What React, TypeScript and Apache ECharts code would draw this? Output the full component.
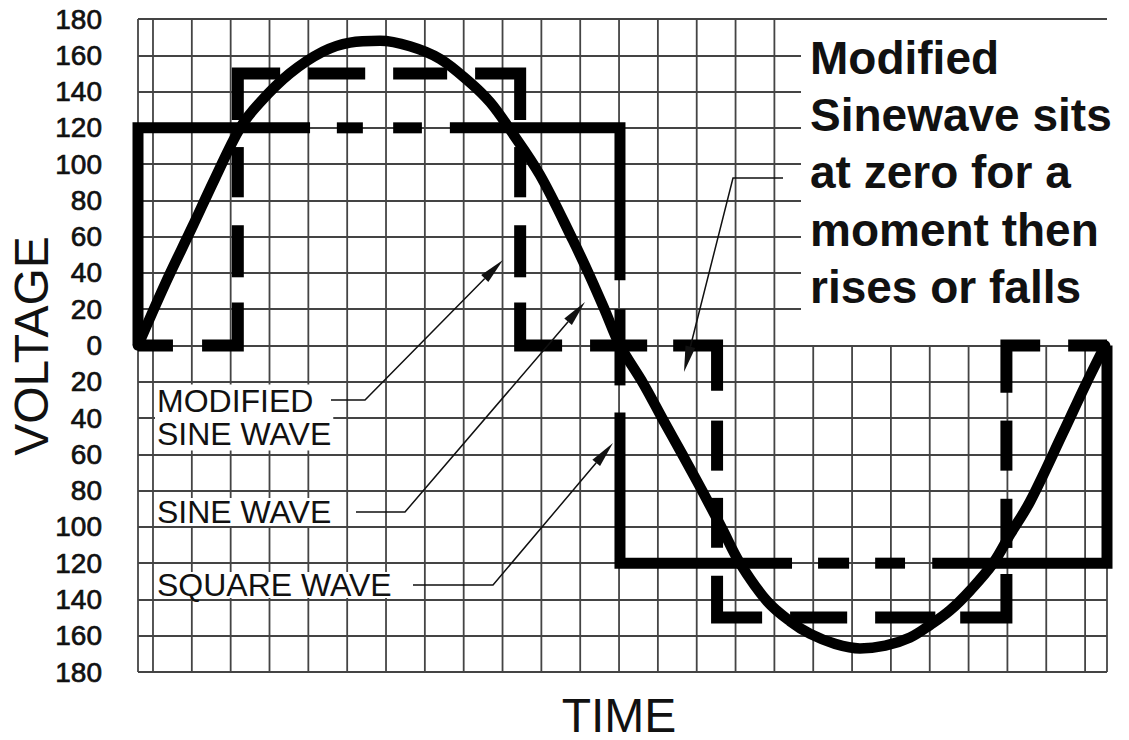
import React, { useEffect, useRef } from "react";
import * as echarts from "echarts";

// ---- axes (x in grid cells from the left border, y in volts) ----
const X_MIN = 0;
const X_MAX = 24.95;
const Y_MIN = -180;
const Y_MAX = 180;
const Y_STEP = 20;

// vertical grid lines: first one 0.386 cell right of the left border, 25 of them
const V_GRID_FIRST = 0.386;
const V_GRID_COUNT = 25;
const V_GRID_FULL_UNTIL = 16; // lines after this index only run below zero

// ---- series ----
const SINE_WAVE: number[][] = [
  [0, 0], [0.7, 34], [1.39, 65], [1.98, 92], [2.63, 120], [3.14, 134], [3.91, 150],
  [4.76, 162], [5.46, 167], [6.23, 168], [7.0, 165], [7.78, 158], [8.55, 145],
  [9.07, 134], [9.58, 119], [10.35, 94], [11.2, 58], [11.64, 38], [12.03, 19],
  [12.41, 0], [13.01, -21], [13.52, -41], [14.04, -61], [14.55, -81], [15.04, -101],
  [15.5, -120], [16.2, -141], [16.79, -152], [17.31, -159], [17.95, -164.5],
  [18.59, -167], [19.24, -165.5], [19.88, -161], [20.4, -154], [20.91, -146],
  [21.43, -135], [22.02, -120], [22.46, -104], [22.97, -86], [23.82, -48],
  [24.39, -22], [24.9, 0],
];

const SQUARE_WAVE: number[][][] = [
  [[0, 0], [0, 120], [4.43, 120]],
  [[5.12, 120], [5.79, 120]],
  [[6.57, 120], [7.31, 120]],
  [[8.03, 120], [12.41, 120], [12.41, 36]],
  [[12.41, 20], [12.41, -22]],
  [[12.41, -37], [12.41, -120], [16.84, -120]],
  [[17.51, -120], [18.31, -120]],
  [[18.98, -120], [19.75, -120]],
  [[20.45, -120], [24.95, -120], [24.95, 0]],
];

const MODIFIED_SINE: number[][][] = [
  [[0, 0], [0.9, 0]],
  [[1.65, 0], [2.57, 0], [2.57, 23.7]],
  [[2.57, 37.6], [2.57, 66.3]],
  [[2.57, 81.7], [2.57, 109.4]],
  [[2.57, 124.3], [2.57, 150], [3.66, 150]],
  [[4.38, 150], [5.85, 150]],
  [[6.57, 150], [7.96, 150]],
  [[8.68, 150], [9.84, 150], [9.84, 124.3]],
  [[9.84, 109.4], [9.84, 81.7]],
  [[9.84, 66.3], [9.84, 37.6]],
  [[9.84, 23.7], [9.84, 0], [10.92, 0]],
  [[11.64, 0], [13.11, 0]],
  [[13.78, 0], [14.91, 0], [14.91, -24.9]],
  [[14.91, -41.4], [14.91, -69]],
  [[14.91, -84], [14.91, -111.5]],
  [[14.91, -127], [14.91, -150], [16.07, -150]],
  [[16.79, -150], [18.26, -150]],
  [[18.98, -150], [20.53, -150]],
  [[21.17, -150], [22.36, -150], [22.36, -126]],
  [[22.36, -111.6], [22.36, -84.5]],
  [[22.36, -69], [22.36, -41.4]],
  [[22.36, -26], [22.36, 0], [23.23, 0]],
  [[23.95, 0], [24.95, 0]],
];

// ---- texts ----
const Y_TITLE = "VOLTAGE";
const X_TITLE = "TIME";
const NOTE_LINES = ["Modified", "Sinewave sits", "at zero for a", "moment then", "rises or falls"];
const LEFT_LABELS = [
  { text: "MODIFIED\nSINE WAVE", x: 155, y: 417.5, lh: 33 },
  { text: "SINE WAVE", x: 155, y: 512, lh: 28 },
  { text: "SQUARE WAVE", x: 155, y: 585, lh: 26 },
];
const ARROWS = [
  { points: [[331, 400], [365, 400]], tip: [503, 260] },
  { points: [[356, 512], [405, 512]], tip: [585, 302] },
  { points: [[413, 585], [493, 585]], tip: [613, 443] },
  { points: [[783, 178], [733, 178]], tip: [684, 372] },
];

const FONT = '"Liberation Sans", Arial, sans-serif';
const INK = "#111";
const GRID_COLOR = "#444";

export default function App() {
  const ref = useRef<HTMLDivElement>(null);

  useEffect(() => {
    if (!ref.current) return;
    const chart = echarts.init(ref.current, null, { renderer: "svg" });

    const gridData: number[][] = [[X_MIN, Y_MAX]];
    for (let k = 0; k < V_GRID_COUNT; k++) {
      gridData.push([V_GRID_FIRST + k, k <= V_GRID_FULL_UNTIL ? Y_MAX : 0]);
    }
    gridData.push([X_MAX, 0]);

    const waveLine = (data: number[][], width: number, z: number, smooth: number | boolean = false) => ({
      type: "line",
      data,
      smooth,
      symbol: "none",
      showSymbol: false,
      clip: false,
      silent: true,
      z,
      lineStyle: { color: "#000", width, cap: "butt", join: "miter" },
    });

    const series: any[] = [
      {
        type: "custom",
        z: 1,
        silent: true,
        data: gridData,
        renderItem: (_p: any, api: any) => {
          const x = api.value(0);
          const top = api.value(1);
          const a = api.coord([x, top]);
          const b = api.coord([x, Y_MIN]);
          return {
            type: "line",
            shape: { x1: a[0], y1: a[1], x2: b[0], y2: b[1] },
            style: { stroke: GRID_COLOR, lineWidth: 1.8 },
          };
        },
      },
      ...SQUARE_WAVE.map((seg) => waveLine(seg, 11, 3)),
      ...MODIFIED_SINE.map((seg) => waveLine(seg, 12, 3)),
      { ...waveLine(SINE_WAVE, 10.5, 4, 0.35), lineStyle: { color: "#000", width: 10.5, cap: "round", join: "round" } },
    ];

    const graphics: any[] = [
      { type: "rect", z: 1.5, silent: true, shape: { x: 801, y: 22, width: 320, height: 316 }, style: { fill: "#fff" } },
      {
        type: "text", z: 10, x: 31, y: 346, rotation: Math.PI / 2,
        style: { text: Y_TITLE, font: `48px ${FONT}`, fill: INK, align: "center", verticalAlign: "middle" },
      },
      {
        type: "text", z: 10, x: 619, y: 715,
        style: { text: X_TITLE, font: `48px ${FONT}`, fill: INK, align: "center", verticalAlign: "middle" },
      },
      ...NOTE_LINES.map((t, i) => ({
        type: "text", z: 10, x: 810, y: 58 + 57.2 * i,
        style: { text: t, font: `bold 46px ${FONT}`, fill: INK, align: "left", verticalAlign: "middle" },
      })),
      ...LEFT_LABELS.map((l) => ({
        type: "text", z: 10, x: l.x, y: l.y,
        style: {
          text: l.text, font: `32px ${FONT}`, fill: INK, align: "left", verticalAlign: "middle",
          lineHeight: l.lh, backgroundColor: "#fff", padding: [0, 2],
        },
      })),
    ];

    ARROWS.forEach((a) => {
      const last = a.points[a.points.length - 1];
      const dx = a.tip[0] - last[0];
      const dy = a.tip[1] - last[1];
      const len = Math.sqrt(dx * dx + dy * dy);
      const ux = dx / len, uy = dy / len;
      const L = 26, W = 5;
      const bx = a.tip[0] - ux * L, by = a.tip[1] - uy * L;
      graphics.push({
        type: "polyline", z: 10, silent: true,
        shape: { points: [...a.points, [bx, by]] },
        style: { stroke: INK, lineWidth: 1.5, fill: null },
      });
      graphics.push({
        type: "polygon", z: 10, silent: true,
        shape: { points: [a.tip, [bx - uy * W, by + ux * W], [bx + uy * W, by - ux * W]] },
        style: { fill: INK },
      });
    });

    chart.setOption({
      animation: false,
      backgroundColor: "#fff",
      grid: { left: 138, right: 22, top: 19, bottom: 68 },
      xAxis: {
        type: "value", min: X_MIN, max: X_MAX, show: false,
      },
      yAxis: {
        type: "value", min: Y_MIN, max: Y_MAX, interval: Y_STEP,
        axisLine: { show: false }, axisTick: { show: false },
        splitLine: { show: true, lineStyle: { color: GRID_COLOR, width: 1.8 } },
        axisLabel: {
          show: true, showMinLabel: true, showMaxLabel: true, margin: 36,
          fontSize: 28, fontFamily: FONT, color: INK,
          textBorderColor: INK, textBorderWidth: 0.7,
          formatter: (v: number) => String(Math.abs(v)),
        },
      },
      series,
      graphic: graphics,
    });

    return () => chart.dispose();
  }, []);

  return (
    <div
      ref={ref}
      style={{ position: "fixed", left: 0, top: 0, width: 1129, height: 740, background: "#fff" }}
    />
  );
}
